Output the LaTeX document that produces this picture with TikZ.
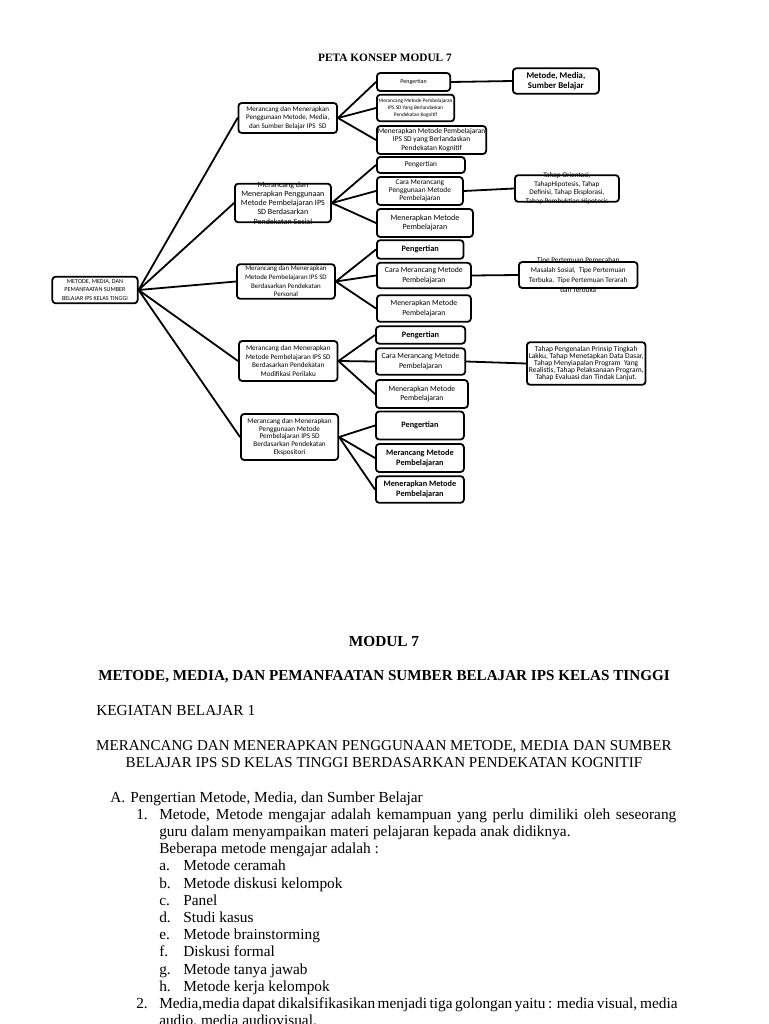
\documentclass[tikz,border=0pt]{standalone}
\usepackage{fontspec}
\setmainfont{Liberation Serif}
\newfontfamily\boxfont{Carlito}
\usetikzlibrary{positioning}
\newcommand{\kecil}[2]{\boxfont\fontsize{#1}{#2}\selectfont}
\tikzset{
  every picture/.style={
    line join=round,
    line cap=round,
  },
  mapbox/.style={draw, rounded corners=2.5pt, line width=1.35pt, align=center,
    inner sep=0.5pt, anchor=west},
  spill/.style={mapbox},
  boxtext/.style={align=center, inner sep=0pt},
  link/.style={line width=1.35pt},
  heading/.style={anchor=base, inner sep=0pt, font=\fontsize{11.3}{13}\selectfont},
  body/.style={anchor=base west, inner sep=0pt, font=\fontsize{11.5}{13}\selectfont},
}
\begin{document}
\begin{tikzpicture}[x=0.75pt, y=-0.75pt]
    \useasboundingbox (0,0) rectangle (768,1024);

    % Peta konsep
    \node[heading, font=\bfseries\fontsize{8.5}{10}\selectfont] (judul) at (385,62) {PETA KONSEP MODUL 7};

    \node[mapbox, anchor=center, minimum width=64pt, minimum height=20pt, font=\kecil{4.6}{6.2}] (akar) at (95,290)
        {METODE, MEDIA, DAN\\PEMANFAATAN SUMBER\\BELAJAR IPS KELAS TINGGI};

    % Level 1
    \node[mapbox, minimum width=74pt, minimum height=22.5pt, font=\kecil{5.3}{6.2}] (sumber) at (237.5,118)
        {Merancang dan Menerapkan\\Penggunaan Metode, Media,\\dan Sumber Belajar IPS\ \ SD};
    \node[spill, minimum width=72pt, minimum height=29pt,
        label={[boxtext, font=\kecil{6}{6.9}]center:{Merancang dan\\Menerapkan Penggunaan\\Metode Pembelajaran IPS\\SD Berdasarkan\\Pendekatan Sosial}}] (sosial) at (234,203) {};
    \node[spill, minimum width=73.5pt, minimum height=26pt,
        label={[boxtext, font=\kecil{5.2}{6.5}]center:{Merancang dan Menerapkan\\Metode Pembelajaran IPS SD\\Berdasarkan Pendekatan\\Personal}}] (personal) at (236,281.5) {};
    \node[mapbox, minimum width=74pt, minimum height=30pt, font=\kecil{5.4}{6.4}] (modifikasi) at (238,361)
        {Merancang dan Menerapkan\\Metode Pembelajaran IPS SD\\Berdasarkan Pendekatan\\Modifikasi Perilaku};
    \node[mapbox, minimum width=73pt, minimum height=34.5pt, font=\kecil{5.4}{5.9}] (ekspositori) at (240,437)
        {Merancang dan Menerapkan\\Penggunaan Metode\\Pembelajaran IPS SD\\Berdasarkan Pendekatan\\Ekspositori};

    % Level 2: sumber
    \node[mapbox, minimum width=55pt, minimum height=13.5pt, font=\kecil{4.5}{5}] (sb1) at (376,82) {Pengertian};
    \node[mapbox, minimum width=58pt, minimum height=20pt, font=\kecil{4}{5}] (sb2) at (376,108)
        {Merancang Metode Pembelajaran\\IPS SD Yang Berlandaskan\\Pendekatan Kognitif};
    \node[mapbox, minimum width=82pt, minimum height=21pt, font=\kecil{5.6}{6.2}] (sb3) at (376,140)
        {Menerapkan Metode Pembelajaran\\IPS SD yang Berlandaskan\\Pendekatan Kognitif};
    \node[mapbox, minimum width=64.5pt, minimum height=19pt, font=\kecil{6.6}{7.6}\bfseries] (sbR) at (512,81)
        {Metode, Media,\\Sumber Belajar};

    % Level 2: sosial
    \node[mapbox, minimum width=66pt, minimum height=12pt, font=\kecil{5.5}{6}] (so1) at (376,165) {Pengertian};
    \node[mapbox, minimum width=64.5pt, minimum height=21pt, font=\kecil{5.5}{6}] (so2) at (376,191)
        {Cara Merancang\\Penggunaan Metode\\Pembelajaran};
    \node[mapbox, minimum width=72pt, minimum height=21pt, font=\kecil{6}{7}] (so3) at (376,223)
        {Menerapkan Metode\\Pembelajaran};
    \node[spill, minimum width=78pt, minimum height=20pt,
        label={[boxtext, font=\kecil{5.4}{6.5}]center:{Tahap Orientasi,\\TahapHipotesis, Tahap\\Definisi, Tahap Eksplorasi,\\Tahap Pembuktian Hipotesis}}] (soR) at (514,188.5) {};

    % Level 2: personal
    \node[mapbox, minimum width=65pt, minimum height=14pt, font=\kecil{6.2}{7}\bfseries] (pe1) at (376,249.5) {Pengertian};
    \node[mapbox, minimum width=70.5pt, minimum height=19pt, font=\kecil{5.8}{7}] (pe2) at (376,275.5)
        {Cara Merancang Metode\\Pembelajaran};
    \node[mapbox, minimum width=70.5pt, minimum height=20pt, font=\kecil{5.8}{7}] (pe3) at (376,308.5)
        {Menerapkan Metode\\Pembelajaran};
    \node[spill, minimum width=89pt, minimum height=19.5pt,
        label={[boxtext, font=\kecil{5.4}{7.5}]center:{Tipe Pertemuan Pemecahan\\Masalah Sosial,\ \ Tipe Pertemuan\\Terbuka,\ \ Tipe Pertemuan Terarah\\dan Terbuka}}] (peR) at (518,275) {};

    % Level 2: modifikasi
    \node[mapbox, minimum width=67pt, minimum height=13pt, font=\kecil{6.2}{7}\bfseries] (mo1) at (375,335) {Pengertian};
    \node[mapbox, minimum width=67pt, minimum height=20pt, font=\kecil{5.8}{7}] (mo2) at (375,361.5)
        {Cara Merancang Metode\\Pembelajaran};
    \node[mapbox, minimum width=69pt, minimum height=21pt, font=\kecil{5.8}{7}] (mo3) at (375,394)
        {Menerapkan Metode\\Pembelajaran};
    \node[mapbox, minimum width=89pt, minimum height=32pt, font=\kecil{5.6}{5.4}] (moR) at (526,363.5)
        {Tahap Pengenalan Prinsip Tingkah\\Lakku, Tahap Menetapkan Data Dasar,\\Tahap Menyiapalan Program\ \ Yang\\Realistis, Tahap Pelaksanaan Program,\\Tahap Evaluasi dan Tindak Lanjut.};

    % Level 2: ekspositori
    \node[mapbox, minimum width=66pt, minimum height=21pt, font=\kecil{6.2}{7.3}\bfseries] (ek1) at (375,425.5) {Pengertian};
    \node[mapbox, minimum width=66pt, minimum height=21pt, font=\kecil{6.2}{7.3}\bfseries] (ek2) at (375,458)
        {Merancang Metode\\Pembelajaran};
    \node[mapbox, minimum width=66pt, minimum height=20pt, font=\kecil{6.2}{7.3}\bfseries] (ek3) at (375,489.5)
        {Menerapkan Metode\\Pembelajaran};

    % Garis penghubung
    \foreach \n in {sumber, sosial, personal, modifikasi, ekspositori}
        \draw[link] (akar.east) -- (\n.west);
    \foreach \a/\b in {sumber/sb1, sumber/sb2, sumber/sb3, sosial/so1, sosial/so2, sosial/so3,
                       personal/pe1, personal/pe2, personal/pe3, modifikasi/mo1, modifikasi/mo2, modifikasi/mo3,
                       ekspositori/ek1, ekspositori/ek2, ekspositori/ek3}
        \draw[link] (\a.east) -- (\b.west);
    \foreach \a/\b in {sb1/sbR, so2/soR, pe2/peR, mo2/moR}
        \draw[link] (\a.east) -- (\b.west);

    % Teks modul
    \node[heading, font=\bfseries\fontsize{11.5}{13}\selectfont] (modul) at (384,646) {MODUL 7};
    \node[heading, font=\bfseries\fontsize{11.35}{13}\selectfont] (judulmodul) at (384,680)
        {METODE, MEDIA, DAN PEMANFAATAN SUMBER BELAJAR IPS KELAS TINGGI};
    \node[body] (kb) at (96,715) {KEGIATAN BELAJAR 1};
    \node[heading] (kbA) at (384,750) {MERANCANG DAN MENERAPKAN PENGGUNAAN METODE, MEDIA DAN SUMBER};
    \node[heading] (kbB) at (384,767) {BELAJAR IPS SD KELAS TINGGI BERDASARKAN PENDEKATAN KOGNITIF};

    \node[body] (hA) at (110,802) {A.};
    \node[body] (tA) at (130,802) {Pengertian Metode, Media, dan Sumber Belajar};
    \node[body] (h1) at (136,819.2) {1.};
    \node[body] (t1) at (159,819.2) {\makebox[387.75pt][s]{Metode, Metode mengajar adalah kemampuan yang perlu dimiliki oleh seseorang}};
    \node[body] (t1b) at (159,836.4) {guru dalam menyampaikan materi pelajaran kepada anak didiknya.};
    \node[body] (t1c) at (159,853.6) {Beberapa metode mengajar adalah :};
    \foreach \h/\t [count=\i] in {a/Metode ceramah, b/Metode diskusi kelompok, c/Panel, d/Studi kasus,
                                  e/Metode brainstorming, f/Diskusi formal, g/Metode tanya jawab, h/Metode kerja kelompok} {
        \node[body] (h\h) at (159,{853.6+17.2*\i}) {\h.};
        \node[body] (t\h) at (183,{853.6+17.2*\i}) {\t};
    }
    \node[body] (h2) at (136,1008.4) {2.};
    \node[body] (t2) at (159,1008.4) {\makebox[387.75pt][s]{Media,media dapat dikalsifikasikan menjadi tiga golongan yaitu : media visual, media}};
    \node[body] (t2b) at (159,1025.6) {audio, media audiovisual.};
\end{tikzpicture}
\end{document}
